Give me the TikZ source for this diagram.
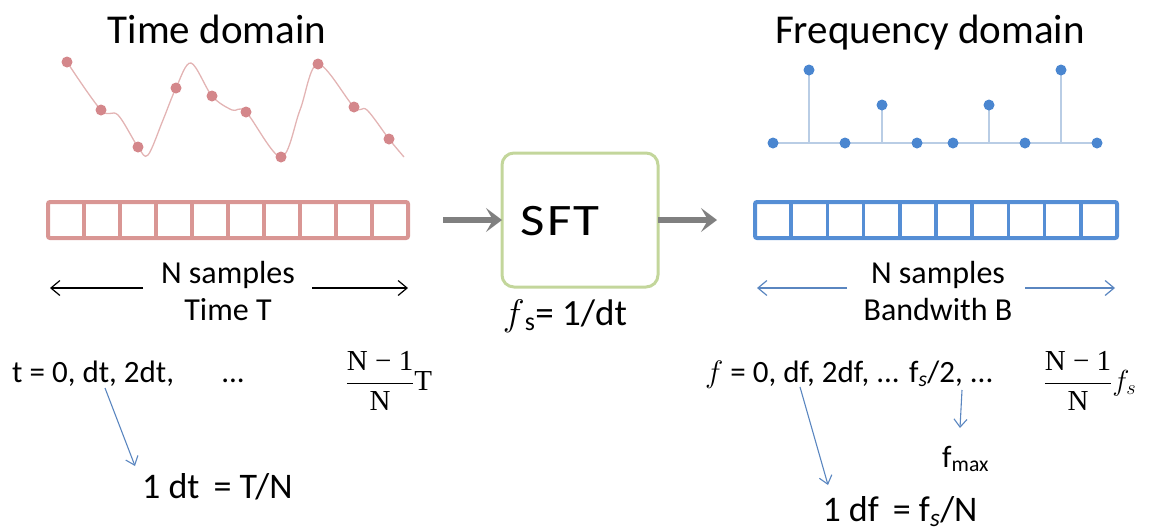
\documentclass[tikz,border=0pt]{standalone}
\usepackage{fix-cm}
\usepackage[no-math]{fontspec}
\setmainfont{Carlito}
\newfontfamily\serifx{Liberation Serif}
\usetikzlibrary{arrows.meta,calc}
\definecolor{pinkbox}{HTML}{D99694}
\definecolor{pinkdot}{HTML}{D4878B}
\definecolor{pinkline}{HTML}{E3B4B4}
\definecolor{bluebox}{HTML}{558ED5}
\definecolor{bluedot}{HTML}{4A86D0}
\definecolor{bluestem}{HTML}{B9CDE5}
\definecolor{bluearr}{HTML}{5A86C0}
\definecolor{sftgreen}{HTML}{C3D69B}
\definecolor{grayarr}{HTML}{808080}
\newcommand\fsz[1]{\fontsize{#1}{#1}\selectfont}
\begin{document}
\begin{tikzpicture}[x=1pt,y=-1pt,
  arraybox/.style={line width=4pt, minimum width=#1, minimum height=36pt, inner sep=0pt, outer sep=0pt, rounded corners=2pt},
  grayarrow/.style={grayarr, line width=6pt, -{Stealth[length=16pt,width=24pt,inset=7pt]}},
  blackarrow/.style={black, line width=1.2pt, -{Straight Barb[length=9pt,width=15pt]}},
  bluehoriz/.style={bluearr, line width=1.2pt, -{Straight Barb[length=9pt,width=15pt]}},
  blueslant/.style={bluearr, line width=1.1pt, -{Straight Barb[length=8pt,width=13pt]}},
  txt/.style={inner sep=0pt, font=\fsz{32}},
  title/.style={inner sep=0pt, font=\fsz{41}}
]
\useasboundingbox (0,0) rectangle (1151,531);

% ---------- Time domain ----------
\node[title, anchor=base] (ttitle) at (217,43) {Time domain};
\draw[pinkline, line width=1.3pt] plot[smooth, tension=0.55] coordinates {
  (67,62) (101,110) (118,115) (138,147) (148,155) (163,120) (176,88) (191,63)
  (212,96) (232,110) (246,112) (281,157) (300,110) (318,64) (354,107) (367,110)
  (389,139) (404,157)};
\foreach \p in {(67,62),(101,110),(138,147),(176,88),(212,96),(246,112),(281,157),(318,64),(354,107),(389,139)}
  \fill[pinkdot] \p circle (5.5pt);

\node[arraybox=360pt, draw=pinkbox] (tarr) at (228,220) {};
\foreach \i in {1,...,9}
  \draw[pinkbox, line width=3.5pt] ($(tarr.north west)!\i/10!(tarr.north east)$) -- ($(tarr.south west)!\i/10!(tarr.south east)$);

\node[txt, anchor=base] (tns) at (228,283) {N samples};
\node[txt, anchor=base] (ttt) at (228,320) {Time T};
\coordinate (tal0) at (143,288);
\coordinate (tal1) at (50,288);
\coordinate (tar0) at (312,288);
\coordinate (tar1) at (408,288);
\draw[blackarrow] (tal0) -- (tal1);
\draw[blackarrow] (tar0) -- (tar1);

\node[txt, font=\fsz{31}, anchor=base west] (tlist) at (12,382) {t = 0, dt, 2dt,};
\node[txt, font=\fsz{31}, anchor=base] (tdots) at (233,382) {...};
\node[inner sep=0pt, font=\fsz{29}\serifx] (tfrac) at (389,381) {$\displaystyle\frac{\mbox{N − 1}}{\mbox{N}}$T};

\coordinate (tdt0) at (105,388);
\coordinate (tdt1) at (135,466);
\draw[blueslant] (tdt0) -- (tdt1);
\node[inner sep=0pt, font=\fsz{36}, anchor=base west] (tdteq) at (142,498) {1 dt \,= T/N};

% ---------- SFT ----------
\node[draw=sftgreen, line width=3pt, rounded corners=12pt, minimum width=156pt, minimum height=134pt, outer sep=0pt] (sft) at (580,220) {};
\node[inner sep=0pt, font=\fsz{45}] (sftlbl) at (560,221) {\scalebox{1.18}[1]{S\kern2pt F\kern1pt T}};
\node[inner sep=0pt, font=\fsz{37}, anchor=base] (fsdt) at (565,325) {$f$\textsubscript{s}= 1/dt};

% ---------- Frequency domain ----------
\node[title, anchor=base] (ftitle) at (930,43) {Frequency domain};
\draw[bluestem, line width=2pt] (773,143) -- (1097,143);
\foreach \x/\y in {809/70, 882/105, 989/105, 1061/70} {
  \draw[bluestem, line width=2pt] (\x,143) -- (\x,\y);
  \fill[bluedot] (\x,\y) circle (5.5pt);
}
\foreach \x in {773,845,917,953,1025,1097}
  \fill[bluedot] (\x,143) circle (5.5pt);

\node[arraybox=362pt, draw=bluebox] (farr) at (936,220) {};
\foreach \i in {1,...,9}
  \draw[bluebox, line width=3.5pt] ($(farr.north west)!\i/10!(farr.north east)$) -- ($(farr.south west)!\i/10!(farr.south east)$);

% gray arrows
\draw[grayarrow] ([xshift=35pt]tarr.east) -- (sft.west);
\draw[grayarrow] (sft.east) -- ([xshift=-38pt]farr.west);

\node[txt, anchor=base] (fns) at (938,283) {N samples};
\node[txt, anchor=base] (fbw) at (938,320) {Bandwith B};
\coordinate (fal0) at (847,288);
\coordinate (fal1) at (757,288);
\coordinate (far0) at (1025,288);
\coordinate (far1) at (1115,288);
\draw[bluehoriz] (fal0) -- (fal1);
\draw[bluehoriz] (far0) -- (far1);

\node[txt, font=\fsz{31}, anchor=base west] (flist) at (705,382) {$f$ = 0, df, 2df, ... f\textsubscript{\textit{s}}/2, ...};
\node[inner sep=0pt, font=\fsz{29}\serifx] (ffrac) at (1090,381) {$\displaystyle\frac{\mbox{N − 1}}{\mbox{N}}f_s$};

\coordinate (fdf0) at (800,387);
\coordinate (fdf1) at (828,485);
\draw[blueslant] (fdf0) -- (fdf1);
\coordinate (fmx0) at (962,390);
\coordinate (fmx1) at (960,428);
\draw[blueslant] (fmx0) -- (fmx1);
\node[txt, font=\fsz{31}, anchor=base west] (fmax) at (942,467) {f\textsubscript{max}};
\node[inner sep=0pt, font=\fsz{36}, anchor=base] (fdfeq) at (900,521) {1 df \,= f\textsubscript{\textit{s}}/N};
\end{tikzpicture}
\end{document}
